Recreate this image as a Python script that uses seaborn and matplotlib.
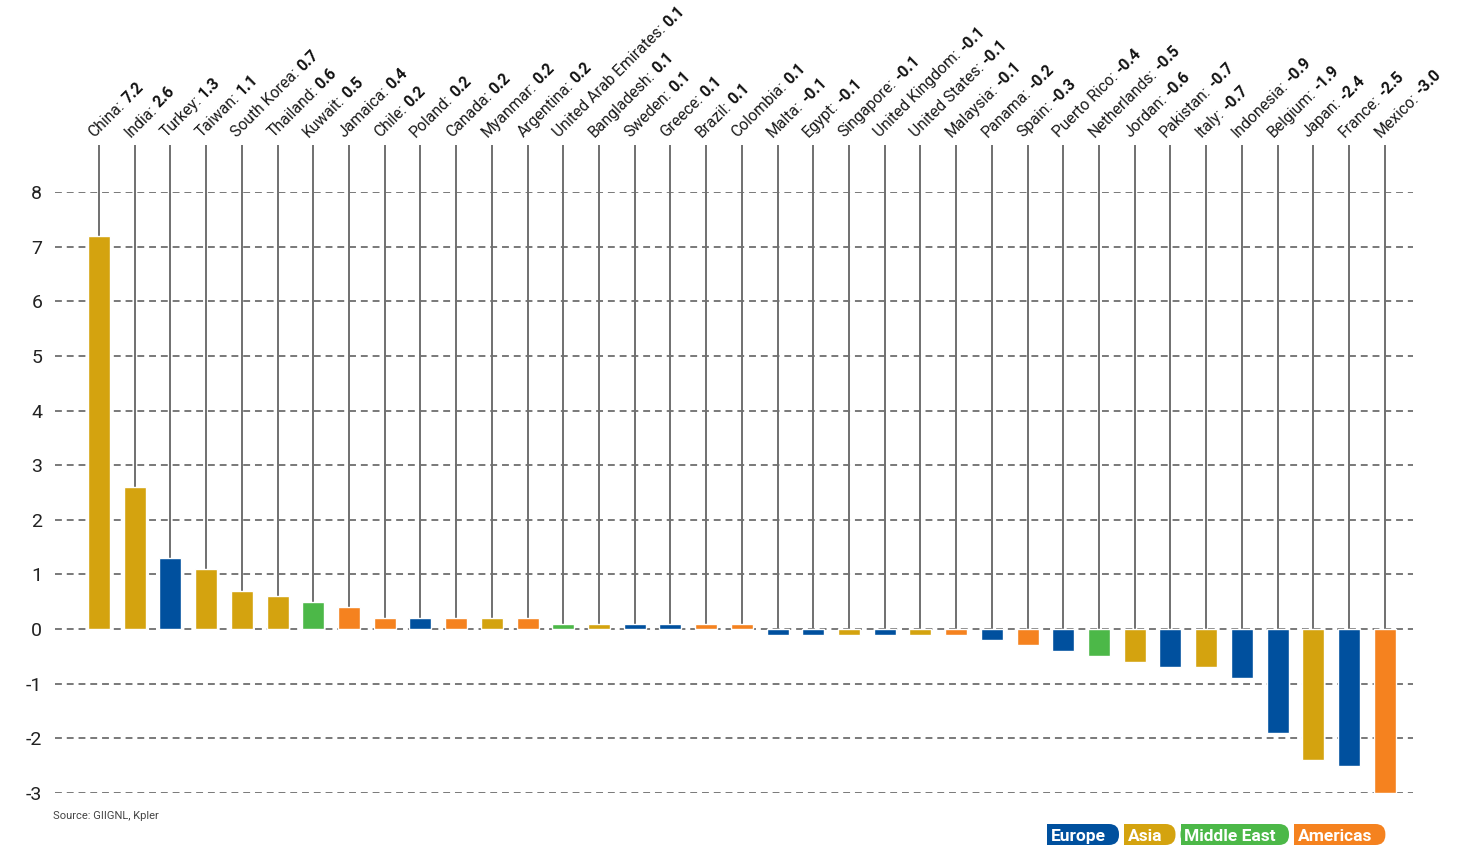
import numpy as np
import pandas as pd
import matplotlib
matplotlib.use("Agg")
import matplotlib.pyplot as plt
import seaborn as sns
from matplotlib.ticker import MultipleLocator
from matplotlib.patches import FancyBboxPatch, Rectangle

# Net change per importing market, sorted descending
countries = [
    "China", "India", "Turkey", "Taiwan", "South Korea", "Thailand", "Kuwait",
    "Jamaica", "Chile", "Poland", "Canada", "Myanmar", "Argentina",
    "United Arab Emirates", "Bangladesh", "Sweden", "Greece", "Brazil",
    "Colombia", "Malta", "Egypt", "Singapore", "United Kingdom",
    "United States", "Malaysia", "Panama", "Spain", "Puerto Rico",
    "Netherlands", "Jordan", "Pakistan", "Italy", "Indonesia", "Belgium",
    "Japan", "France", "Mexico",
]
values = [
    7.2, 2.6, 1.3, 1.1, 0.7, 0.6, 0.5, 0.4, 0.2, 0.2, 0.2, 0.2, 0.2,
    0.1, 0.1, 0.1, 0.1, 0.1, 0.1, -0.1, -0.1, -0.1, -0.1, -0.1, -0.1,
    -0.2, -0.3, -0.4, -0.5, -0.6, -0.7, -0.7, -0.9, -1.9, -2.4, -2.5, -3.0,
]
regions = [
    "Asia", "Asia", "Europe", "Asia", "Asia", "Asia", "Middle East",
    "Americas", "Americas", "Europe", "Americas", "Asia", "Americas",
    "Middle East", "Asia", "Europe", "Europe", "Americas", "Americas",
    "Europe", "Europe", "Asia", "Europe", "Asia", "Americas", "Europe",
    "Americas", "Europe", "Middle East", "Asia", "Europe", "Asia",
    "Europe", "Europe", "Asia", "Europe", "Americas",
]
region_order = ["Europe", "Asia", "Middle East", "Americas"]
region_colors = ["#00509e", "#d4a30f", "#4cb848", "#f5821f"]
y_ticks = [-3, -2, -1, 0, 1, 2, 3, 4, 5, 6, 7, 8]
source_note = "Source: GIIGNL, Kpler"

sns.set_style("white")
plt.rcParams["font.family"] = ["Roboto", "DejaVu Sans"]
plt.rcParams["axes.unicode_minus"] = False

W, H = 1471, 846
fig = plt.figure(figsize=(W / 100, H / 100), dpi=100)
ax = fig.add_axes([55 / W, 1 - 793 / H, (1413 - 55) / W, (793 - 192) / H])

df = pd.DataFrame({"country": countries, "value": values, "region": regions})
palette = dict(zip(region_order, region_colors))
sns.barplot(data=df, x="country", y="value", hue="region",
            hue_order=region_order, order=countries, palette=palette,
            dodge=False, width=0.616, saturation=1, legend=False, ax=ax,
            zorder=3)

ax.set_xlim(-1.232, 36.79)
ax.set_ylim(-3, 8)

# dashed horizontal guides
for yv in y_ticks:
    ax.axhline(yv, color="#555555", lw=1.1, dashes=(4.5, 3.2), zorder=1)

# leader lines from each bar up to its label
x_pos = np.arange(len(countries))
y_top = 8 + (192 - 145) / 54.64
ax.vlines(x_pos, np.maximum(np.array(values), 0), y_top, colors="#707070",
          lw=1.4, clip_on=False, zorder=2)

ax.set_xticks([])
ax.set_xlabel("")
ax.set_ylabel("")
ax.set_yticks(y_ticks)
ax.set_yticklabels([str(v) for v in y_ticks])
ax.yaxis.set_minor_locator(MultipleLocator(0.05))
ax.tick_params(axis="y", which="major", labelsize=14, length=3.6, width=0.8,
               color="#666666", pad=5.5, labelcolor="#222222")
ax.tick_params(axis="y", which="minor", length=3.6, width=0.7,
               color="#666666")
for s in ax.spines.values():
    s.set_visible(False)

renderer = fig.canvas.get_renderer()


def text_width_pt(s, **kw):
    t = fig.text(0, 0, s, **kw)
    w = t.get_window_extent(renderer).width * 72 / fig.dpi
    t.remove()
    return w


LABEL_FS = 11.3
c45 = np.cos(np.pi / 4)
ox, oy = -3.2, 5.3
for i, (name, v) in enumerate(zip(countries, values)):
    head = f"{name}:"
    ax.annotate(head, xy=(i, y_top), xytext=(ox, oy),
                textcoords="offset points", rotation=45,
                rotation_mode="anchor", ha="left", va="baseline",
                fontsize=LABEL_FS, color="#1a1a1a", annotation_clip=False)
    w = text_width_pt(head, fontsize=LABEL_FS) + 2.6
    ax.annotate(f"{v:.1f}", xy=(i, y_top),
                xytext=(ox + w * c45, oy + w * c45),
                textcoords="offset points", rotation=45,
                rotation_mode="anchor", ha="left", va="baseline",
                fontsize=LABEL_FS, fontweight="bold", color="#111111",
                annotation_clip=False)

fig.text(53 / W, 1 - 816 / H, source_note, fontsize=8, color="#444444",
         ha="left", va="center")

# region key, bottom right
KEY_FS = 12.5
x_px = 1047
box_h = 21
box_bottom = H - 845
for name, col in zip(region_order, region_colors):
    tw = text_width_pt(name, fontsize=KEY_FS, fontweight="bold") * fig.dpi / 72
    bw = tw + 17
    fig.patches.append(FancyBboxPatch(
        (x_px / W, box_bottom / H), bw / W, box_h / H,
        boxstyle=f"round,pad=0,rounding_size={10 / W}",
        transform=fig.transFigure, fc=col, ec="none",
        mutation_aspect=W / H))
    fig.patches.append(Rectangle(
        (x_px / W, box_bottom / H), (bw / 2) / W, box_h / H,
        transform=fig.transFigure, fc=col, ec="none"))
    fig.text((x_px + 4) / W, (box_bottom + box_h / 2) / H, name,
             fontsize=KEY_FS, fontweight="bold", color="white",
             ha="left", va="center_baseline")
    x_px += bw + 5

fig.savefig("out.png", dpi=100, facecolor="white")
